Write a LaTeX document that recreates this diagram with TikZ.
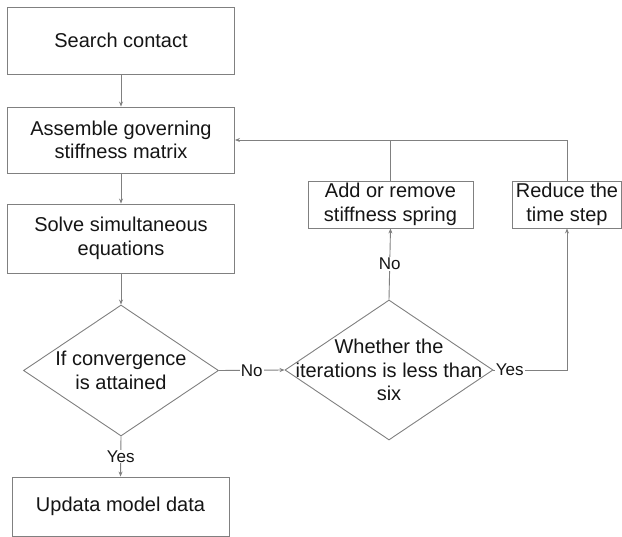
\documentclass[tikz,border=0pt]{standalone}
\usepackage{fontspec}
\setmainfont{Liberation Sans}
\usetikzlibrary{shapes.geometric,arrows.meta}
\definecolor{linegray}{HTML}{808080}
\definecolor{txt}{HTML}{151515}
\tikzset{
  box/.style={draw=linegray, line width=0.9pt, rectangle, inner sep=0pt, align=center, text=txt, font=\fontsize{20}{23.5}\selectfont},
  dia/.style={draw=linegray, line width=0.9pt, diamond, inner sep=0pt},
  diatext/.style={align=center, text=txt, font=\fontsize{20}{23.5}\selectfont},
  conn/.style={draw=linegray, line width=0.9pt},
  arr/.style={conn, -{Stealth[length=5pt,width=4pt]}},
  lbl/.style={fill=white, inner sep=1pt, text=txt, font=\fontsize{17}{19}\selectfont}
}
\begin{document}
\begin{tikzpicture}[x=1pt,y=-1pt]
\useasboundingbox (0,0) rectangle (622,537);
\node[box, minimum width=227pt, minimum height=67pt] (s) at (121,40.5) {Search contact};
\node[box, minimum width=227pt, minimum height=66pt] (a) at (121,140) {Assemble governing\\stiffness matrix};
\node[box, minimum width=227pt, minimum height=69pt] (b) at (121,238.5) {Solve simultaneous\\equations};
\node[dia, minimum width=195pt, minimum height=131pt] (d1) at (121,370.5) {};
\node[diatext] (d1t) at (121,370.5) {If convergence\\is attained};
\node[box, minimum width=217pt, minimum height=59pt] (u) at (120.5,506.5) {Updata model data};
\node[dia, minimum width=208pt, minimum height=140pt] (d2) at (389,370) {};
\node[diatext] (d2t) at (389,370) {Whether the\\iterations is less than\\six};
\node[box, minimum width=165pt, minimum height=47pt] (add) at (390.5,204.5) {Add or remove\\stiffness spring};
\node[box, minimum width=109pt, minimum height=47pt] (red) at (567,204.5) {Reduce the\\time step};

\draw[arr] (s) -- (a);
\draw[arr] (a) -- (b);
\draw[arr] (b) -- (d1.north);
\draw[arr] (d1.south) -- node[lbl] {Yes} (u.north);
\draw[arr] (d1.east) -- node[lbl] {No} (d2.west);
\draw[arr] (d2.north) -- node[lbl] {No} (add.south);
\draw[arr] (d2.east) -| node[lbl, pos=0.11] {Yes} (red.south);
\draw[conn] (add.north) -- (add.north |- a.east);
\draw[arr] (red.north) |- (a.east);
\end{tikzpicture}
\end{document}
